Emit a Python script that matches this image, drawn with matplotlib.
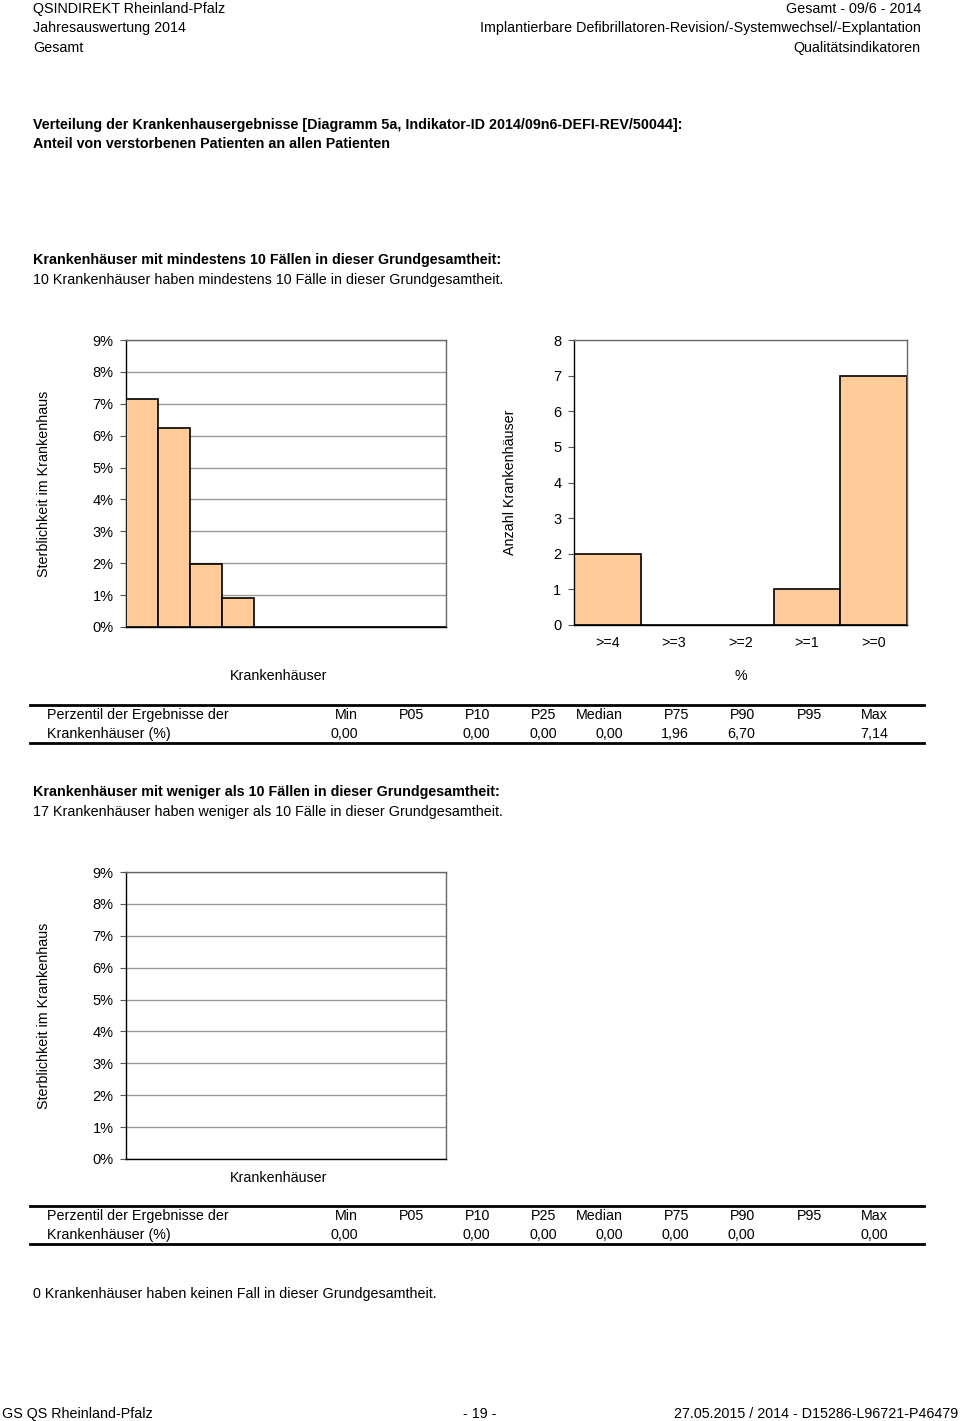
import numpy as np
import matplotlib.pyplot as plt
from matplotlib.lines import Line2D

plt.rcParams['font.family'] = ['Liberation Sans', 'DejaVu Sans']

# data
rates_big = [7.14, 6.25, 1.96, 0.90, 0, 0, 0, 0, 0, 0]   # % per hospital, >= 10 cases
hist_labels = [">=4", ">=3", ">=2", ">=1", ">=0"]
hist_counts = [2, 0, 0, 1, 7]
rates_small = []   # hospitals with < 10 cases: nothing to show

pct_cols = ["Min", "P05", "P10", "P25", "Median", "P75", "P90", "P95", "Max"]
pct_big = ["0,00", "", "0,00", "0,00", "0,00", "1,96", "6,70", "", "7,14"]
pct_small = ["0,00", "", "0,00", "0,00", "0,00", "0,00", "0,00", "", "0,00"]

W, H = 960, 1421
FS = 10.25
BAR = '#FFCC99'

fig = plt.figure(figsize=(W / 100, H / 100), dpi=100)


def fy(y):
    return 1 - y / H


def txt(x, y, s, ha='left', bold=False, size=FS):
    fig.text(x / W, fy(y + 1), s, ha=ha, va='center', fontsize=size,
             fontweight='bold' if bold else 'normal')


def axes_px(x0, y0, x1, y1):
    return fig.add_axes([x0 / W, fy(y1), (x1 - x0) / W, (y1 - y0) / H])


def style(ax):
    ax.spines['left'].set_color('black')
    ax.spines['bottom'].set_color('black')
    ax.spines['top'].set_color('#666666')
    ax.spines['right'].set_color('#666666')
    for s in ax.spines.values():
        s.set_linewidth(1.0)
    ax.tick_params(axis='y', length=4, width=0.8, color='#555555',
                   labelsize=FS + 0.3, pad=5)


def rate_chart(ax, rates):
    style(ax)
    ax.set_xlim(0, 10)
    ax.set_ylim(0, 9)
    ax.set_yticks(range(10))
    ax.set_yticklabels([f"{i}%" for i in range(10)])
    ax.set_xticks([])
    ax.yaxis.grid(True, color='#999999', linewidth=1.0)
    ax.set_axisbelow(True)
    if rates:
        ax.bar(np.arange(len(rates)), rates, width=1.0, align='edge',
               color=BAR, edgecolor='black', linewidth=1.2, zorder=3)
    ax.set_ylabel("Sterblichkeit im Krankenhaus", fontsize=FS, labelpad=30)


# header
txt(33, 8, "QSINDIREKT Rheinland-Pfalz")
txt(33, 27, "Jahresauswertung 2014")
txt(33, 47, "Gesamt")
txt(921, 8, "Gesamt - 09/6 - 2014", ha='right')
txt(921, 27, "Implantierbare Defibrillatoren-Revision/-Systemwechsel/-Explantation", ha='right')
txt(921, 47, "Qualitätsindikatoren", ha='right')

txt(33, 124, "Verteilung der Krankenhausergebnisse [Diagramm 5a, Indikator-ID 2014/09n6-DEFI-REV/50044]:", bold=True)
txt(33, 143, "Anteil von verstorbenen Patienten an allen Patienten", bold=True)

txt(33, 259, "Krankenhäuser mit mindestens 10 Fällen in dieser Grundgesamtheit:", bold=True)
txt(33, 279, "10 Krankenhäuser haben mindestens 10 Fälle in dieser Grundgesamtheit.")

# chart 1: hospital rates
ax1 = axes_px(126, 340, 446, 627)
rate_chart(ax1, rates_big)
txt(279, 675, "Krankenhäuser", ha='center')

# chart 2: histogram
ax2 = axes_px(574, 340, 907, 625)
style(ax2)
ax2.bar(np.arange(len(hist_counts)), hist_counts, width=1.0,
        color=BAR, edgecolor='black', linewidth=1.2)
ax2.set_xlim(-0.5, len(hist_counts) - 0.5)
ax2.set_ylim(0, 8)
ax2.set_yticks(range(9))
ax2.set_xticks(range(len(hist_labels)))
ax2.set_xticklabels(hist_labels, fontsize=FS)
ax2.tick_params(axis='x', length=0, pad=8)
ax2.set_ylabel("Anzahl Krankenhäuser", fontsize=FS, labelpad=26)
txt(741, 675, "%", ha='center')


def table(y_top, vals):
    fig.add_artist(Line2D([30 / W, 924 / W], [fy(y_top), fy(y_top)], color='black', linewidth=2))
    fig.add_artist(Line2D([30 / W, 924 / W], [fy(y_top + 38), fy(y_top + 38)], color='black', linewidth=2))
    txt(47, y_top + 9, "Perzentil der Ergebnisse der")
    txt(47, y_top + 28, "Krankenhäuser (%)")
    for i, (c, v) in enumerate(zip(pct_cols, vals)):
        xr = 358 + i * 66.25
        txt(xr, y_top + 9, c, ha='right')
        if v:
            txt(xr, y_top + 28, v, ha='right')


table(705, pct_big)

txt(33, 791, "Krankenhäuser mit weniger als 10 Fällen in dieser Grundgesamtheit:", bold=True)
txt(33, 811, "17 Krankenhäuser haben weniger als 10 Fälle in dieser Grundgesamtheit.")

# chart 3: small hospitals (empty)
ax3 = axes_px(126, 872, 446, 1159)
rate_chart(ax3, rates_small)
txt(279, 1177, "Krankenhäuser", ha='center')

table(1206, pct_small)

txt(33, 1293, "0 Krankenhäuser haben keinen Fall in dieser Grundgesamtheit.")

# footer
txt(2, 1413, "GS QS Rheinland-Pfalz")
txt(480, 1413, "- 19 -", ha='center')
txt(958, 1413, "27.05.2015 / 2014 - D15286-L96721-P46479", ha='right')

fig.savefig("out.png", dpi=100)
